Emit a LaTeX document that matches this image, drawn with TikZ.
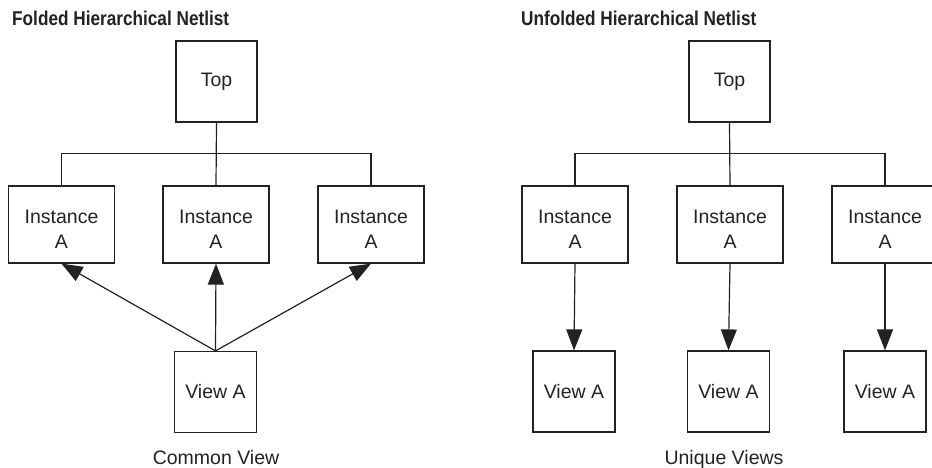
\documentclass[tikz,border=0pt]{standalone}
\usepackage{fontspec}
\setmainfont{Liberation Sans}
\newfontfamily\titlefont[FakeStretch=0.86]{Liberation Sans Bold}
\usetikzlibrary{arrows.meta}
\definecolor{ink}{HTML}{222222}
\tikzset{
  box/.style={draw=ink, line width=1.2pt, rectangle, inner sep=0pt, text=ink,
    align=center, font=\fontsize{19.5}{25}\selectfont},
  topbox/.style={box, minimum width=81pt, minimum height=81pt},
  instbox/.style={box, minimum width=106pt, minimum height=77pt},
  instlabel/.style={text=ink, align=center, inner sep=0pt, yshift=-5pt,
    font=\fontsize{19.5}{25}\selectfont},
  viewbox/.style={box, minimum width=82pt, minimum height=81pt},
  wire/.style={draw=ink, line width=1.2pt},
  arr/.style={wire, -{Triangle[length=21pt,width=16pt]}},
  heading/.style={anchor=base west, inner sep=0pt, text=ink,
    font=\titlefont\fontsize{20}{24}\selectfont},
  caption/.style={anchor=base, inner sep=0pt, text=ink,
    font=\fontsize{19.5}{24}\selectfont}
}
\begin{document}
\begin{tikzpicture}[x=1pt, y=-1pt]
\useasboundingbox (0,0) rectangle (932,467);
\clip (0,0) rectangle (932,467);

% ---- folded netlist ----
\node[heading] (hL) at (12,25) {Folded Hierarchical Netlist};
\node[topbox] (topL) at (216.5,81.5) {Top};
\node[instbox, label={[instlabel]center:Instance\\A}] (iL1) at (61.5,224.5) {};
\node[instbox, label={[instlabel]center:Instance\\A}] (iL2) at (216,224.5) {};
\node[instbox, label={[instlabel]center:Instance\\A}] (iL3) at (371,224.5) {};
\node[viewbox] (vL) at (215.5,392) {View A};
\node[caption] (cL) at (216,464) {Common View};

\draw[wire] (topL.south) -- (iL2.north);
\draw[wire] (iL1.north) -- ++(0,-32) -| (iL3.north);
\draw[arr] (vL.north) -- (iL1.south);
\draw[arr] (vL.north) -- (iL2.south);
\draw[arr] (vL.north) -- (iL3.south);

% ---- unfolded netlist ----
\node[heading] (hR) at (521,25) {Unfolded Hierarchical Netlist};
\node[topbox] (topR) at (729.5,81.5) {Top};
\node[instbox, label={[instlabel]center:Instance\\A}] (iR1) at (575,224.5) {};
\node[instbox, label={[instlabel]center:Instance\\A}] (iR2) at (730,224.5) {};
\node[instbox, label={[instlabel]center:Instance\\A}] (iR3) at (885,224.5) {};
\node[viewbox] (vR1) at (574,391.5) {View A};
\node[viewbox] (vR2) at (728.5,391.5) {View A};
\node[viewbox] (vR3) at (885,391.5) {View A};
\node[caption] (cR) at (724,464) {Unique Views};

\draw[wire] (topR.south) -- (iR2.north);
\draw[wire] (iR1.north) -- ++(0,-32) -| (iR3.north);
\draw[arr] (iR1.south) -- (vR1.north);
\draw[arr] (iR2.south) -- (vR2.north);
\draw[arr] (iR3.south) -- (vR3.north);
\end{tikzpicture}
\end{document}
